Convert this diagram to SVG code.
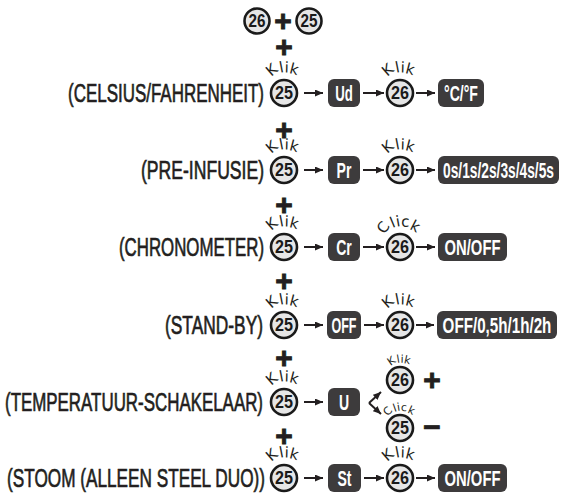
<svg xmlns="http://www.w3.org/2000/svg" width="562" height="494" viewBox="0 0 562 494">
<defs>
<marker id="ah" viewBox="0 0 8 7" refX="8" refY="3.5" markerUnits="userSpaceOnUse" markerWidth="8" markerHeight="7" orient="auto">
<path d="M0,0 L8,3.5 L0,7 z" fill="#231f20"/>
</marker>
</defs>
<style>
.btn circle{fill:#e6e6e6;stroke:#1a1a1a;stroke-width:2.6}
.num{font-family:"Liberation Sans",Arial,sans-serif;font-weight:bold;font-size:18px;fill:#1a1a1a;text-anchor:middle}
.lbl{font-family:"Liberation Sans",Arial,sans-serif;font-size:26px;fill:#231f20;stroke:#231f20;stroke-width:0.7;text-anchor:end}
.box rect{fill:#3d3b3c}
.box text{font-family:"Liberation Sans",Arial,sans-serif;font-weight:bold;font-size:22px;fill:#ffffff;text-anchor:middle}
.klik{font-family:"DejaVu Sans",sans-serif;font-size:15px;fill:#231f20;text-anchor:start}
.klikS{font-family:"DejaVu Sans",sans-serif;font-size:11px;fill:#231f20;text-anchor:start}
.plus{font-family:"Liberation Sans",Arial,sans-serif;font-weight:bold;font-size:30px;fill:#231f20;text-anchor:middle;stroke:#231f20;stroke-width:0.9}
.conn line{stroke:#231f20;stroke-width:2;marker-end:url(#ah)}
</style>

<g id="top26" class="btn" transform="translate(257,21)"><circle r="12.5"/><text class="num" y="6.3" textLength="17" lengthAdjust="spacingAndGlyphs">26</text></g>
<text id="topPlus" class="plus" x="283" y="31">+</text>
<g id="top25" class="btn" transform="translate(309,21)"><circle r="12.5"/><text class="num" y="6.3" textLength="17" lengthAdjust="spacingAndGlyphs">25</text></g>

<g id="pluses">
<text class="plus" x="284" y="57">+</text>
<text class="plus" x="284" y="140">+</text>
<text class="plus" x="284" y="215">+</text>
<text class="plus" x="284" y="291">+</text>
<text class="plus" x="284" y="368">+</text>
<text class="plus" x="284" y="446">+</text>
</g>

<g id="labels">
<text class="lbl" x="264" y="102" textLength="196" lengthAdjust="spacingAndGlyphs">(CELSIUS/FAHRENHEIT)</text>
<text class="lbl" x="264" y="179" textLength="123" lengthAdjust="spacingAndGlyphs">(PRE-INFUSIE)</text>
<text class="lbl" x="264" y="256" textLength="145" lengthAdjust="spacingAndGlyphs">(CHRONOMETER)</text>
<text class="lbl" x="263" y="334" textLength="98" lengthAdjust="spacingAndGlyphs">(STAND-BY)</text>
<text class="lbl" x="263" y="411" textLength="258" lengthAdjust="spacingAndGlyphs">(TEMPERATUUR-SCHAKELAAR)</text>
<text class="lbl" x="265" y="487" textLength="258" lengthAdjust="spacingAndGlyphs">(STOOM (ALLEEN STEEL DUO))</text>
</g>

<g id="r1b25" class="btn" transform="translate(284,93)"><circle r="13"/><text class="num" y="6.3" textLength="18" lengthAdjust="spacingAndGlyphs">25</text><text class="klik" x="-12.7 -3.7 0.6 4.8" y="-15.9 -20.2 -20.5 -19.9" rotate="-40.6 -10.9 1.7 14.3">Klik</text></g>
<g id="r1box1" class="box"><rect x="328" y="79" width="32" height="28" rx="6"/><text transform="translate(344,101) scale(0.6,1)">Ud</text></g>
<g id="r1b26" class="btn" transform="translate(400,93)"><circle r="13"/><text class="num" y="6.3" textLength="18" lengthAdjust="spacingAndGlyphs">26</text><text class="klik" x="-12.7 -3.7 0.6 4.8" y="-15.9 -20.2 -20.5 -19.9" rotate="-40.6 -10.9 1.7 14.3">Klik</text></g>
<g id="r1box2" class="box"><rect x="438" y="79" width="46" height="28" rx="6"/><text transform="translate(461,101) scale(0.64,1)">°C/°F</text></g>

<g id="r2b25" class="btn" transform="translate(284,170)"><circle r="13"/><text class="num" y="6.3" textLength="18" lengthAdjust="spacingAndGlyphs">25</text><text class="klik" x="-12.7 -3.7 0.6 4.8" y="-15.9 -20.2 -20.5 -19.9" rotate="-40.6 -10.9 1.7 14.3">Klik</text></g>
<g id="r2box1" class="box"><rect x="328" y="156" width="32" height="28" rx="6"/><text transform="translate(344,178) scale(0.64,1)">Pr</text></g>
<g id="r2b26" class="btn" transform="translate(400,170)"><circle r="13"/><text class="num" y="6.3" textLength="18" lengthAdjust="spacingAndGlyphs">26</text><text class="klik" x="-12.7 -3.7 0.6 4.8" y="-15.9 -20.2 -20.5 -19.9" rotate="-40.6 -10.9 1.7 14.3">Klik</text></g>
<g id="r2box2" class="box"><rect x="438" y="156" width="121" height="28" rx="6"/><text transform="translate(498.5,178) scale(0.626,1)">0s/1s/2s/3s/4s/5s</text></g>

<g id="r3b25" class="btn" transform="translate(284,247)"><circle r="13"/><text class="num" y="6.3" textLength="18" lengthAdjust="spacingAndGlyphs">25</text><text class="klik" x="-12.7 -3.7 0.6 4.8" y="-15.9 -20.2 -20.5 -19.9" rotate="-40.6 -10.9 1.7 14.3">Klik</text></g>
<g id="r3box1" class="box"><rect x="328" y="233" width="32" height="28" rx="6"/><text transform="translate(344,255) scale(0.64,1)">Cr</text></g>
<g id="r3b26" class="btn" transform="translate(400,247)"><circle r="13"/><text class="num" y="6.3" textLength="18" lengthAdjust="spacingAndGlyphs">26</text><text class="klik" x="-15.8 -7.4 -3.3 0.9 9.0" y="-12.3 -19.0 -20.2 -20.5 -18.2" rotate="-54 -22.4 -9.8 2.7 27.6">Click</text></g>
<g id="r3box2" class="box"><rect x="438" y="233" width="69" height="28" rx="6"/><text transform="translate(472.5,255) scale(0.674,1)">ON/OFF</text></g>

<g id="r4b25" class="btn" transform="translate(284,325)"><circle r="13"/><text class="num" y="6.3" textLength="18" lengthAdjust="spacingAndGlyphs">25</text><text class="klik" x="-12.7 -3.7 0.6 4.8" y="-15.9 -20.2 -20.5 -19.9" rotate="-40.6 -10.9 1.7 14.3">Klik</text></g>
<g id="r4box1" class="box"><rect x="327" y="311" width="34" height="28" rx="6"/><text transform="translate(344,333) scale(0.57,1)">OFF</text></g>
<g id="r4b26" class="btn" transform="translate(400,325)"><circle r="13"/><text class="num" y="6.3" textLength="18" lengthAdjust="spacingAndGlyphs">26</text><text class="klik" x="-12.7 -3.7 0.6 4.8" y="-15.9 -20.2 -20.5 -19.9" rotate="-40.6 -10.9 1.7 14.3">Klik</text></g>
<g id="r4box2" class="box"><rect x="437" y="311" width="120" height="28" rx="6"/><text transform="translate(497,333) scale(0.69,1)">OFF/0,5h/1h/2h</text></g>

<g id="r5b25" class="btn" transform="translate(284,402)"><circle r="13"/><text class="num" y="6.3" textLength="18" lengthAdjust="spacingAndGlyphs">25</text><text class="klik" x="-12.7 -3.7 0.6 4.8" y="-15.9 -20.2 -20.5 -19.9" rotate="-40.6 -10.9 1.7 14.3">Klik</text></g>
<g id="r5box1" class="box"><rect x="328" y="388" width="32" height="28" rx="6"/><text transform="translate(344,410) scale(0.64,1)">U</text></g>
<g id="r5b26" class="btn" transform="translate(400,380)"><circle r="13"/><text class="num" y="6.3" textLength="18" lengthAdjust="spacingAndGlyphs">26</text><text class="klikS" x="-9.5 -2.7 0.4 3.6" y="-14.1 -17.0 -17.3 -16.9" rotate="-35.3 -9.4 1.5 12.5">Klik</text></g>
<text id="r5plus" class="plus" x="432" y="390">+</text>
<g id="r5b25b" class="btn" transform="translate(400,428)"><circle r="13"/><text class="num" y="6.3" textLength="18" lengthAdjust="spacingAndGlyphs">25</text><text class="klikS" x="-12.2 -5.6 -2.5 0.7 6.9" y="-11.6 -16.1 -16.9 -17.1 -15.6" rotate="-46.9 -19.4 -8.5 2.5 24.2">Click</text></g>
<text id="r5minus" class="plus" x="432" y="437">−</text>

<g id="r6b25" class="btn" transform="translate(284,478)"><circle r="13"/><text class="num" y="6.3" textLength="18" lengthAdjust="spacingAndGlyphs">25</text><text class="klik" x="-12.7 -3.7 0.6 4.8" y="-15.9 -20.2 -20.5 -19.9" rotate="-40.6 -10.9 1.7 14.3">Klik</text></g>
<g id="r6box1" class="box"><rect x="328" y="464" width="33" height="28" rx="6"/><text transform="translate(344.5,486) scale(0.64,1)">St</text></g>
<g id="r6b26" class="btn" transform="translate(400,478)"><circle r="13"/><text class="num" y="6.3" textLength="18" lengthAdjust="spacingAndGlyphs">26</text><text class="klik" x="-12.7 -3.7 0.6 4.8" y="-15.9 -20.2 -20.5 -19.9" rotate="-40.6 -10.9 1.7 14.3">Klik</text></g>
<g id="r6box2" class="box"><rect x="438" y="464" width="69" height="28" rx="6"/><text transform="translate(472.5,486) scale(0.674,1)">ON/OFF</text></g>

<g id="connectors" class="conn">
<line x1="304" y1="93" x2="323" y2="93"/><line x1="363" y1="93" x2="384" y2="93"/><line x1="416" y1="93" x2="435" y2="93"/>
<line x1="304" y1="170" x2="323" y2="170"/><line x1="363" y1="170" x2="384" y2="170"/><line x1="416" y1="170" x2="435" y2="170"/>
<line x1="304" y1="247" x2="323" y2="247"/><line x1="363" y1="247" x2="384" y2="247"/><line x1="416" y1="247" x2="435" y2="247"/>
<line x1="304" y1="325" x2="323" y2="325"/><line x1="364" y1="325" x2="384" y2="325"/><line x1="416" y1="325" x2="434" y2="325"/>
<line x1="304" y1="402" x2="323" y2="402"/>
<line x1="369" y1="403" x2="381" y2="392"/><line x1="369" y1="403" x2="381" y2="414"/>
<line x1="304" y1="478" x2="323" y2="478"/><line x1="364" y1="478" x2="384" y2="478"/><line x1="416" y1="478" x2="435" y2="478"/>
</g>
</svg>
